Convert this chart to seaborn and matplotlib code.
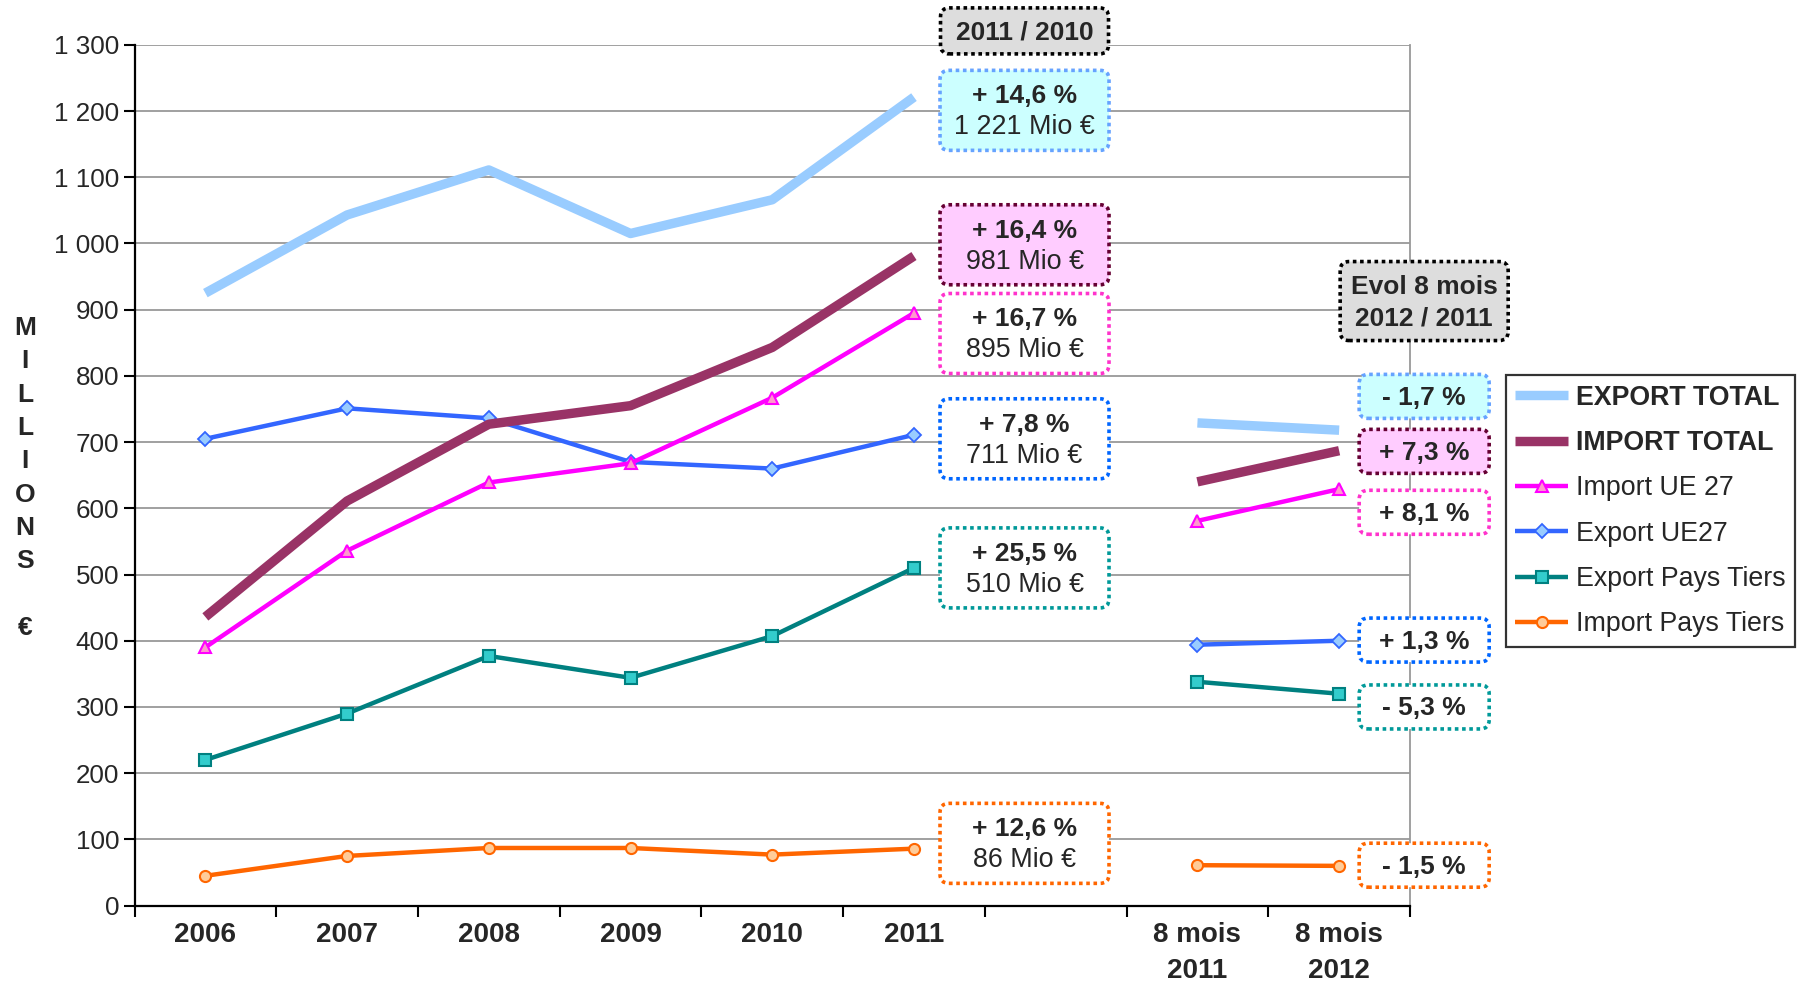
import numpy as np
import pandas as pd
import matplotlib
matplotlib.use('Agg')
import matplotlib.pyplot as plt
import seaborn as sns
from matplotlib.lines import Line2D
from matplotlib.patches import FancyBboxPatch

# ---- data ----
categories = ['2006', '2007', '2008', '2009', '2010', '2011', '',
              '8 mois\n2011', '8 mois\n2012']
series_names = ['EXPORT TOTAL', 'IMPORT TOTAL', 'Import UE 27',
                'Export UE27', 'Export Pays Tiers', 'Import Pays Tiers']
nan = np.nan
export_total = [925, 1043, 1111, 1015, 1066, 1221, nan, 729, 718]
import_total = [436, 611, 727, 755, 843, 981, nan, 640, 687]
import_ue27 = [390, 536, 639, 668, 767, 895, nan, 581, 629]
export_ue27 = [705, 751, 736, 670, 660, 711, nan, 394, 400]
export_tiers = [220, 290, 377, 344, 407, 510, nan, 338, 320]
import_tiers = [45, 75, 87, 87, 77, 86, nan, 61, 60]
series_values = [export_total, import_total, import_ue27,
                 export_ue27, export_tiers, import_tiers]

evol_2011 = ['+ 14,6 %', '+ 16,4 %', '+ 16,7 %', '+ 7,8 %', '+ 25,5 %', '+ 12,6 %']
evol_8mois = ['- 1,7 %', '+ 7,3 %', '+ 8,1 %', '+ 1,3 %', '- 5,3 %', '- 1,5 %']
header_2011 = '2011 / 2010'
header_8mois = 'Evol 8 mois\n2012 / 2011'

# ---- styles ----
STYLES = {
    'EXPORT TOTAL': dict(color='#99ccff', linewidth=6.8),
    'IMPORT TOTAL': dict(color='#993366', linewidth=6.8),
    'Import UE 27': dict(color='#ff00ff', linewidth=3.2, marker='^', markersize=9,
                         markerfacecolor='#ff99cc', markeredgecolor='#ff00ff',
                         markeredgewidth=1.5),
    'Export UE27': dict(color='#3366ff', linewidth=3.2, marker='D', markersize=7,
                        markerfacecolor='#99ccff', markeredgecolor='#3366ff',
                        markeredgewidth=1.3),
    'Export Pays Tiers': dict(color='#008080', linewidth=3.2, marker='s', markersize=8,
                              markerfacecolor='#33cccc', markeredgecolor='#008080',
                              markeredgewidth=1.5),
    'Import Pays Tiers': dict(color='#ff6600', linewidth=3.2, marker='o', markersize=8,
                              markerfacecolor='#ffcc99', markeredgecolor='#ff6600',
                              markeredgewidth=1.5),
}
BOX_COLORS = {
    'EXPORT TOTAL': ('#ccffff', '#66a3ff'),
    'IMPORT TOTAL': ('#ffccff', '#660033'),
    'Import UE 27': ('white', '#ff33cc'),
    'Export UE27': ('white', '#0066ff'),
    'Export Pays Tiers': ('white', '#009999'),
    'Import Pays Tiers': ('white', '#ff6600'),
}
# vertical placement of the annotation boxes (in value units)
BOX_Y_MID = [1201, 998, 864, 705, 510, 94]
BOX_Y_RIGHT = [769, 686, 594, 401, 300, 61]
X_MID, X_RIGHT = 5.78, 8.6

sns.set_style('white')
plt.rcParams['font.family'] = ['Liberation Sans', 'DejaVu Sans']
FS = 19

W_PX, H_PX = 1802, 984
fig = plt.figure(figsize=(W_PX / 100, H_PX / 100), dpi=100)
ax_pos = [134.5 / W_PX, 1 - 905.6 / H_PX, (1410 - 134.5) / W_PX, (905.6 - 44.8) / H_PX]
ax = fig.add_axes(ax_pos)
AX_W, AX_H = ax_pos[2] * W_PX, ax_pos[3] * H_PX

rows = []
for name, vals in zip(series_names, series_values):
    for i, v in enumerate(vals):
        if not np.isnan(v):
            rows.append(dict(serie=name, pos=i, value=v, seg=0 if i < 6 else 1))
df = pd.DataFrame(rows)

draw_order = ['EXPORT TOTAL', 'Export UE27', 'IMPORT TOTAL', 'Import UE 27',
              'Export Pays Tiers', 'Import Pays Tiers']
for name in draw_order:
    sns.lineplot(data=df[df.serie == name], x='pos', y='value', units='seg',
                 estimator=None, ax=ax, legend=False, solid_capstyle='butt',
                 **STYLES[name])

NCAT = len(categories)
ax.set_xlim(-0.5, NCAT - 0.5)
ax.set_ylim(0, 1300)
ax.set_xticks(np.arange(NCAT + 1) - 0.5)
ax.set_xticklabels([])
ax.set_xticks(np.arange(NCAT), minor=True)
ax.set_xticklabels(categories, minor=True, fontsize=20, fontweight='bold',
                   linespacing=1.5)
ax.tick_params(axis='x', which='minor', length=0, pad=12)
ax.tick_params(axis='x', which='major', length=8, width=1.5, direction='out',
               color='black', bottom=True)
yt = np.arange(0, 1301, 100)
ax.set_yticks(yt)
ax.set_yticklabels([f'{v:,}'.replace(',', ' ') for v in yt], fontsize=18.7)
ax.tick_params(axis='y', length=8, width=1.5, direction='out', left=True,
               color='black', pad=3)
ax.set_xlabel('')
ax.set_ylabel('')
ax.yaxis.grid(True, color='#999999', linewidth=1.3)
ax.xaxis.grid(False)
ax.set_axisbelow(True)
for s in ['left', 'bottom']:
    ax.spines[s].set_color('black')
    ax.spines[s].set_linewidth(1.6)
ax.spines['right'].set_color('#999999')
ax.spines['right'].set_linewidth(1.3)
ax.spines['top'].set_visible(False)


def draw_box(x, y, w_px, h_px, fc, ec, lines):
    cx = (x + 0.5) / NCAT
    cy = y / 1300
    w, h = w_px / AX_W, h_px / AX_H
    patch = FancyBboxPatch((cx - w / 2, cy - h / 2), w, h,
                           boxstyle=f'round,pad=0,rounding_size={9 / AX_W}',
                           mutation_aspect=AX_W / AX_H,
                           transform=ax.transAxes, clip_on=False,
                           facecolor=fc, edgecolor=ec, linewidth=2.6,
                           linestyle=(0, (1, 1)), zorder=6)
    ax.add_patch(patch)
    n = len(lines)
    step = 31 / AX_H
    for k, (txt, weight) in enumerate(lines):
        ty = cy + ((n - 1) / 2 - k) * step - 1.5 / AX_H
        ax.text(cx, ty, txt, transform=ax.transAxes, ha='center', va='center',
                fontsize=FS if weight == 'bold' else 19.4, fontweight=weight,
                zorder=7, clip_on=False)


# header boxes
draw_box(X_MID, 1321, 168, 46, '#dddddd', 'black', [(header_2011, 'bold')])
draw_box(X_RIGHT, 913, 168, 79, '#dddddd', 'black',
         [(t, 'bold') for t in header_8mois.split('\n')])

for name, vals, ev, ev8, ym, yr in zip(series_names, series_values, evol_2011,
                                       evol_8mois, BOX_Y_MID, BOX_Y_RIGHT):
    fc, ec = BOX_COLORS[name]
    v2011 = int(vals[5])
    draw_box(X_MID, ym, 169, 80, fc, ec,
             [(ev, 'bold'), (f'{v2011:,}'.replace(',', ' ') + ' Mio €', 'normal')])
    draw_box(X_RIGHT, yr, 130, 44, fc, ec, [(ev8, 'bold')])

# stacked vertical unit label
fig.text(25 / W_PX, 1 - 478 / H_PX, 'M\nI\nL\nL\nI\nO\nN\nS\n\n€',
         ha='center', va='center', fontsize=19, fontweight='bold',
         linespacing=1.49)

handles = []
for name in series_names:
    st = dict(STYLES[name])
    handles.append(Line2D([], [], solid_capstyle='butt', **st))
leg = fig.legend(handles, series_names, loc='center left',
                 bbox_to_anchor=(1506 / W_PX, 1 - 511 / H_PX), fontsize=19.3,
                 frameon=True, fancybox=False, edgecolor='black',
                 handlelength=1.95, labelspacing=0.72, handletextpad=0.3,
                 borderpad=0.35, borderaxespad=0)
leg.get_frame().set_linewidth(1.6)
for t in leg.get_texts()[:2]:
    t.set_fontweight('bold')

fig.savefig('out.png', dpi=100)
